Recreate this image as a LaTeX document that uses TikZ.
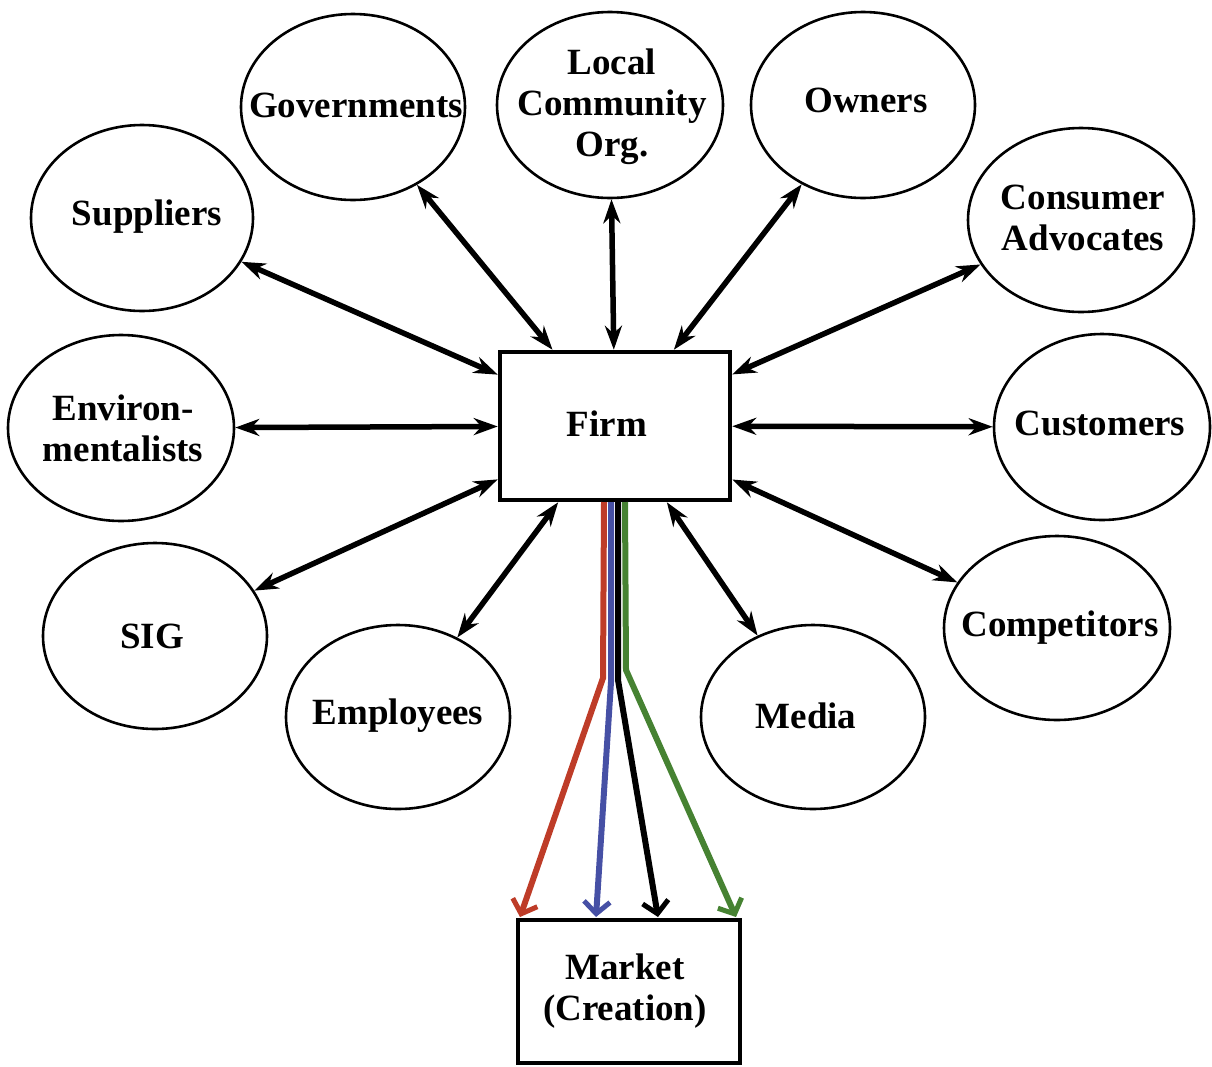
\documentclass[tikz,border=0pt]{standalone}
\usepackage{fontspec}
\setmainfont{Liberation Serif}
\usetikzlibrary{shapes.geometric,arrows.meta}
\definecolor{fred}{RGB}{190,60,40}
\definecolor{fblue}{RGB}{70,80,165}
\definecolor{fgreen}{RGB}{70,130,50}
\tikzset{
  ell/.style={draw, ellipse, line width=2.6pt, inner sep=0pt, minimum width=224pt, minimum height=186pt},
  lbl/.style={font=\fontsize{37}{41}\selectfont\bfseries, align=center, inner sep=0pt},
  boxnode/.style={draw, line width=4.5pt, inner sep=0pt},
  link/.style={line width=5.5pt, {Stealth[length=24pt,width=17pt]}-{Stealth[length=24pt,width=17pt]}},
  flow/.style={line width=6pt, -{Straight Barb[length=12pt,width=26pt,line width=5pt]}}
}
\begin{document}
\begin{tikzpicture}[x=1pt,y=-1pt]
\useasboundingbox (0,0) rectangle (1212,1066);
% ellipses
\node[ell] (gov) at (353,107) {};
\node[lbl] (govt) at (356,105) {Governments};
\node[ell, minimum width=226pt] (loc) at (610,105) {};
\node[lbl] (loct) at (612,107) {Local\\Community\\Org.};
\node[ell] (own) at (863,105) {};
\node[lbl] (ownt) at (866,100) {Owners};
\node[ell, minimum width=222pt] (sup) at (142,218) {};
\node[lbl] (supt) at (147,217) {Suppliers};
\node[ell, minimum width=226pt, minimum height=184pt] (cons) at (1081,220) {};
\node[lbl] (const) at (1083,218) {Consumer\\Advocates};
\node[ell, minimum width=226pt] (env) at (121,428) {};
\node[lbl] (envt) at (123,428) {Environ-\\mentalists};
\node[ell, minimum width=216pt] (cust) at (1102,427) {};
\node[lbl] (custt) at (1100,423) {Customers};
\node[ell] (sig) at (155,636) {};
\node[lbl] (sigt) at (152,636) {SIG};
\node[ell, minimum height=184pt] (emp) at (398,717) {};
\node[lbl] (empt) at (398,716) {Employees};
\node[ell, minimum height=184pt] (med) at (813,717) {};
\node[lbl] (medt) at (806,716) {Media};
\node[ell, minimum width=226pt, minimum height=184pt] (comp) at (1057,628) {};
\node[lbl] (compt) at (1060,628) {Competitors};
% boxes
\node[boxnode, minimum width=230pt, minimum height=148pt] (firm) at (615,426) {};
\node[lbl] (firmt) at (607,424) {Firm};
\node[boxnode, minimum width=222pt, minimum height=143pt] (market) at (629,991.5) {};
\node[lbl] (markett) at (625,991) {Market\\(Creation)};
% two-way links
\foreach \n in {gov,loc,own,sup,cons,env,cust,sig,emp,med,comp}
  \draw[link] (\n) -- (firm);
% flows to market
\coordinate (r0) at (604,502); \coordinate (r1) at (603,678); \coordinate (r2) at (520,917);
\coordinate (b0) at (611,502); \coordinate (b1) at (611,682); \coordinate (b2) at (596,917);
\coordinate (k0) at (618,502); \coordinate (k1) at (618,680); \coordinate (k2) at (658,917);
\coordinate (g0) at (625,502); \coordinate (g1) at (626,670); \coordinate (g2) at (736,917);
\draw[flow, fred] (r0) -- (r1) -- (r2);
\draw[flow, fblue] (b0) -- (b1) -- (b2);
\draw[flow, black] (k0) -- (k1) -- (k2);
\draw[flow, fgreen] (g0) -- (g1) -- (g2);
\end{tikzpicture}
\end{document}
